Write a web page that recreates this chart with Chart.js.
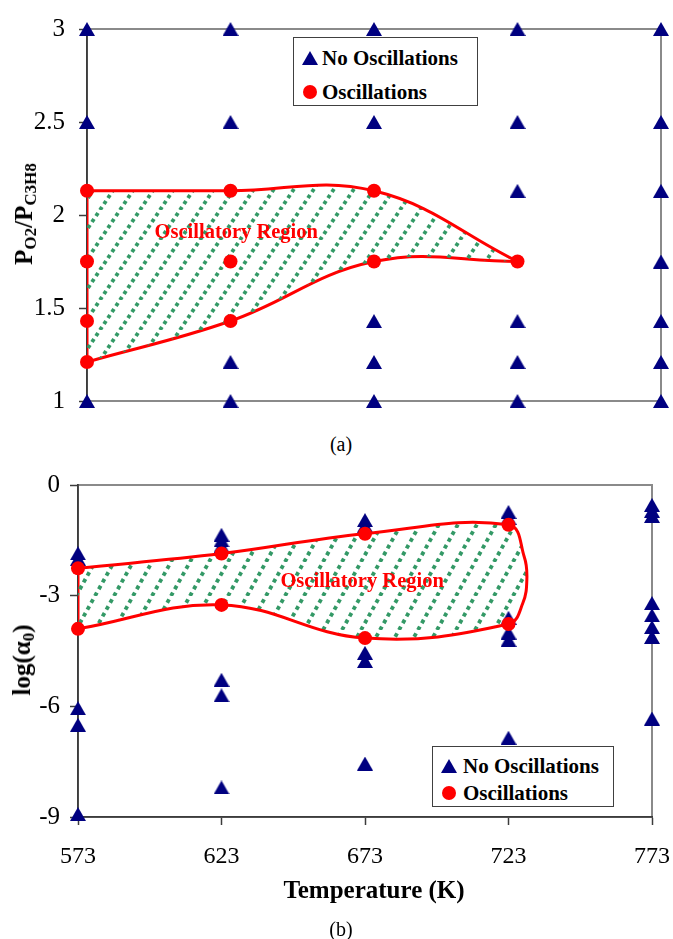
<!DOCTYPE html>
<html>
<head>
<meta charset="utf-8">
<title>Oscillatory region</title>
<script src="https://cdn.jsdelivr.net/npm/chart.js@4.4.1/dist/chart.umd.min.js"></script>
<style>
    html, body { margin: 0; padding: 0; background: #fff; }
    #wrap { position: relative; width: 673px; height: 939px; overflow: hidden;
            font-family: "Liberation Serif", "Times New Roman", serif; color: #000; }
    canvas { position: absolute; left: 0; }
    .ytitle { position: absolute; transform: translate(-50%, -50%) rotate(-90deg);
              white-space: nowrap; font-weight: bold; font-size: 25px; line-height: 1; }
    .ytitle sub { font-size: 17px; vertical-align: -4px; }
    .caption { position: absolute; transform: translate(-50%, -50%); font-size: 20px; line-height: 1; white-space: nowrap; }
    .xtitle { position: absolute; transform: translate(-50%, -50%); font-size: 25px; font-weight: bold; line-height: 1; white-space: nowrap; }
    .legend { position: absolute; box-sizing: border-box; border: 1.5px solid #404040; background: #fff;
              font-weight: bold; font-size: 21px; }
    .legend .row { position: absolute; left: 0; height: 24px; line-height: 24px; white-space: nowrap; }
    .legend .tri { position: absolute; top: 5px; width: 0; height: 0;
                   border-left: 8px solid transparent; border-right: 8px solid transparent;
                   border-bottom: 14px solid #000080; }
    .legend .dot { position: absolute; top: 5px; width: 14px; height: 14px; border-radius: 50%; background: #ff0000; }
    .legend .txt { position: absolute; top: 0; }
</style>
</head>
<body>
<div id="wrap">
    <canvas id="chartRatio" width="673" height="430" style="top:0"></canvas>
    <canvas id="chartAlpha" width="673" height="430" style="top:460px"></canvas>

    <div class="ytitle" style="left:25px; top:214px">P<sub>O2</sub>/P<sub>C3H8</sub></div>
    <div class="ytitle" style="left:23px; top:660px">log(α<sub>0</sub>)</div>
    <div class="caption" style="left:341px; top:444px">(a)</div>
    <div class="xtitle" style="left:374px; top:889px">Temperature (K)</div>
    <div class="caption" style="left:341px; top:929px">(b)</div>

    <div class="legend" style="left:293px; top:37px; width:185px; height:69px">
        <div class="row" style="top:8px"><span class="tri" style="left:8px"></span><span class="txt" style="left:28px">No Oscillations</span></div>
        <div class="row" style="top:42px"><span class="dot" style="left:9px"></span><span class="txt" style="left:28px">Oscillations</span></div>
    </div>
    <div class="legend" style="left:432px; top:746px; width:182px; height:61px">
        <div class="row" style="top:7px"><span class="tri" style="left:8px"></span><span class="txt" style="left:30px">No Oscillations</span></div>
        <div class="row" style="top:34px"><span class="dot" style="left:9px"></span><span class="txt" style="left:30px">Oscillations</span></div>
    </div>
</div>

<script>
// Temperaturas (K) y ticks del eje x
const temperatures = [573, 623, 673, 723, 773];
const tempTicks = [573, 623, 673, 723, 773];

// (a) relacion PO2/PC3H8
const ratioTicks = [1, 1.5, 2, 2.5, 3];
const ratioNoOsc = [
    [3, 2.5, 1],
    [3, 2.5, 1.21, 1],
    [3, 2.5, 1.43, 1.21, 1],
    [3, 2.5, 2.13, 1.43, 1.21, 1],
    [3, 2.5, 2.13, 1.75, 1.43, 1.21, 1],
];
const ratioOsc = [
    [2.13, 1.75, 1.43, 1.21],
    [2.13, 1.75, 1.43],
    [2.13, 1.75],
    [1.75],
    [],
];
// borde de la region oscilatoria (a)
const ratioUpperT = [573, 623, 673, 723];
const ratioUpper = [2.13, 2.13, 2.13, 1.75];
const ratioLowerT = [573, 623, 673, 723];
const ratioLower = [1.21, 1.43, 1.75, 1.75];
const ratioLabelAt = { x: 625, y: 1.905 };

// (b) log(alpha0)
const alphaTicks = [-9, -6, -3, 0];
const alphaNoOsc = [
    [-1.85, -2.0, -6.05, -6.5, -8.92],
    [-1.35, -1.5, -1.65, -5.28, -5.7, -8.2],
    [-0.95, -1.1, -4.55, -4.77, -7.55],
    [-0.73, -0.89, -3.6, -4.0, -4.2, -6.85],
    [-0.54, -0.7, -0.84, -3.2, -3.53, -3.85, -4.12, -6.33],
];
const alphaOsc = [
    [-2.26, -3.9],
    [-1.86, -3.25],
    [-1.32, -4.15],
    [-1.08, -3.77],
    [],
];
// borde cerrado de la region oscilatoria (b)
const alphaLoopT = [573, 623, 673, 723, 728.5, 729.4, 728, 723, 673, 623, 573];
const alphaLoop = [-2.26, -1.86, -1.32, -1.08, -1.95, -2.55, -3.2, -3.77, -4.15, -3.25, -3.9];
const alphaLabelAt = { x: 672, y: -2.61 };

Chart.defaults.font.family = '"Liberation Serif", "Times New Roman", serif';
Chart.defaults.color = '#000';

const NAVY = '#000080';
const RED = '#ff0000';
const AXIS = '#3c3c3c';
const FRAME = '#8a8a8a';

// Marcador triangular centrado en su caja (como Excel)
function makeTriangle(w, h) {
    const c = document.createElement('canvas');
    c.width = w; c.height = h;
    const g = c.getContext('2d');
    g.fillStyle = NAVY;
    g.beginPath();
    g.moveTo(w / 2, 0);
    g.lineTo(w, h);
    g.lineTo(0, h);
    g.closePath();
    g.fill();
    return c;
}

// Trama de lineas diagonales punteadas verdes
function makeHatch(w, h) {
    const c = document.createElement('canvas');
    c.width = w; c.height = h;
    const g = c.getContext('2d');
    const len = Math.hypot(w, h);
    const period = len / Math.round(len / 7.5);
    g.strokeStyle = '#339966';
    g.lineWidth = 3.8;
    g.setLineDash([period * 0.5, period * 0.5]);
    for (const x0 of [-w, 0, w]) {
        g.beginPath();
        g.moveTo(x0, h);
        g.lineTo(x0 + w, 0);
        g.stroke();
    }
    return g.createPattern(c, 'repeat');
}

function pointsFrom(xs, lists) {
    const pts = [];
    lists.forEach((ys, i) => ys.forEach(y => pts.push({ x: xs[i], y: y })));
    return pts;
}

function pairs(xs, ys) {
    return xs.map((x, i) => ({ x: x, y: ys[i] }));
}

const triangle = makeTriangle(16, 14);

// Marco gris del area de trazado
const framePlugin = {
    id: 'frame',
    beforeDraw: function(chart) {
        const a = chart.chartArea;
        const ctx = chart.ctx;
        ctx.save();
        ctx.strokeStyle = FRAME;
        ctx.lineWidth = 2;
        ctx.strokeRect(a.left, a.top, a.right - a.left, a.bottom - a.top);
        ctx.restore();
    },
};

// Texto "Oscillatory Region"
const regionLabelPlugin = {
    id: 'regionLabel',
    afterDatasetsDraw: function(chart, args, opts) {
        if (!opts || opts.x === undefined) return;
        const ctx = chart.ctx;
        ctx.save();
        ctx.font = 'bold 20.5px "Liberation Serif", "Times New Roman", serif';
        ctx.fillStyle = RED;
        ctx.textAlign = 'center';
        ctx.textBaseline = 'middle';
        ctx.fillText('Oscillatory Region', chart.scales.x.getPixelForValue(opts.x), chart.scales.y.getPixelForValue(opts.y));
        ctx.restore();
    },
};

function noOscDataset(data) {
    return {
        label: 'No Oscillations',
        data: data,
        showLine: false,
        pointStyle: triangle,
        pointRadius: 8,
        pointHoverRadius: 8,
        order: 2,
        clip: false,
    };
}

function oscDataset(data) {
    return {
        label: 'Oscillations',
        data: data,
        showLine: false,
        pointStyle: 'circle',
        pointRadius: 7,
        pointHoverRadius: 7,
        pointBackgroundColor: RED,
        pointBorderWidth: 0,
        order: 0,
        clip: false,
    };
}

function boundaryDataset(data, fill, pattern, tension) {
    return {
        label: 'region',
        data: data,
        showLine: true,
        borderColor: RED,
        borderWidth: 3,
        tension: tension,
        pointRadius: 0,
        fill: fill,
        backgroundColor: pattern || 'transparent',
        order: 1,
    };
}

function yAxis(min, max, ticks, width, pad) {
    return {
        type: 'linear',
        min: min,
        max: max,
        afterBuildTicks: s => { s.ticks = ticks.map(v => ({ value: v })); },
        afterFit: s => { s.width = width; },
        ticks: { font: { size: 25 }, padding: pad, color: '#000', callback: v => String(v) },
        grid: { drawOnChartArea: false, drawTicks: true, tickLength: 8, tickColor: AXIS, tickWidth: 1.5 },
        border: { display: true, color: AXIS, width: 1.8 },
    };
}

const commonOptions = {
    responsive: false,
    animation: false,
    devicePixelRatio: 1,
    events: [],
};

// ---- (a) ----
const upperA = pairs(ratioUpperT, ratioUpper);
const lowerA = pairs(ratioLowerT, ratioLower);

new Chart(document.getElementById('chartRatio'), {
    type: 'line',
    data: {
        datasets: [
            boundaryDataset(upperA, '+1', makeHatch(20, 30), 0.4),
            boundaryDataset(lowerA, false, null, 0.4),
            boundaryDataset([upperA[0], lowerA[0]], false, null, 0),
            noOscDataset(pointsFrom(temperatures, ratioNoOsc)),
            oscDataset(pointsFrom(temperatures, ratioOsc)),
        ],
    },
    options: Object.assign({}, commonOptions, {
        layout: { padding: { left: 0, top: 22, right: 12, bottom: 19 } },
        plugins: { legend: { display: false }, tooltip: { enabled: false }, regionLabel: ratioLabelAt },
        scales: {
            x: { type: 'linear', min: 573, max: 773, display: false },
            y: yAxis(1, 3, ratioTicks, 87, 14),
        },
    }),
    plugins: [framePlugin, regionLabelPlugin],
});

// ---- (b) ----
const loopB = pairs(alphaLoopT, alphaLoop);

new Chart(document.getElementById('chartAlpha'), {
    type: 'line',
    data: {
        datasets: [
            boundaryDataset(loopB, 'shape', makeHatch(19, 34), 0.4),
            boundaryDataset([loopB[0], loopB[loopB.length - 1]], false, null, 0),
            noOscDataset(pointsFrom(temperatures, alphaNoOsc)),
            oscDataset(pointsFrom(temperatures, alphaOsc)),
        ],
    },
    options: Object.assign({}, commonOptions, {
        layout: { padding: { left: 0, top: 23, right: 21, bottom: 23 } },
        plugins: { legend: { display: false }, tooltip: { enabled: false }, regionLabel: alphaLabelAt },
        scales: {
            x: {
                type: 'linear',
                min: 573,
                max: 773,
                afterBuildTicks: s => { s.ticks = tempTicks.map(v => ({ value: v })); },
                afterFit: s => { s.height = 50; s.paddingLeft = 0; s.paddingRight = 0; },
                ticks: { font: { size: 24 }, padding: 17, color: '#000', maxRotation: 0, callback: v => String(v) },
                grid: { drawOnChartArea: false, drawTicks: true, tickLength: 8, tickColor: AXIS, tickWidth: 1.5 },
                border: { display: true, color: AXIS, width: 1.8 },
            },
            y: yAxis(-9, 0, alphaTicks, 78, 10),
        },
    }),
    plugins: [framePlugin, regionLabelPlugin],
});
</script>
</body>
</html>
